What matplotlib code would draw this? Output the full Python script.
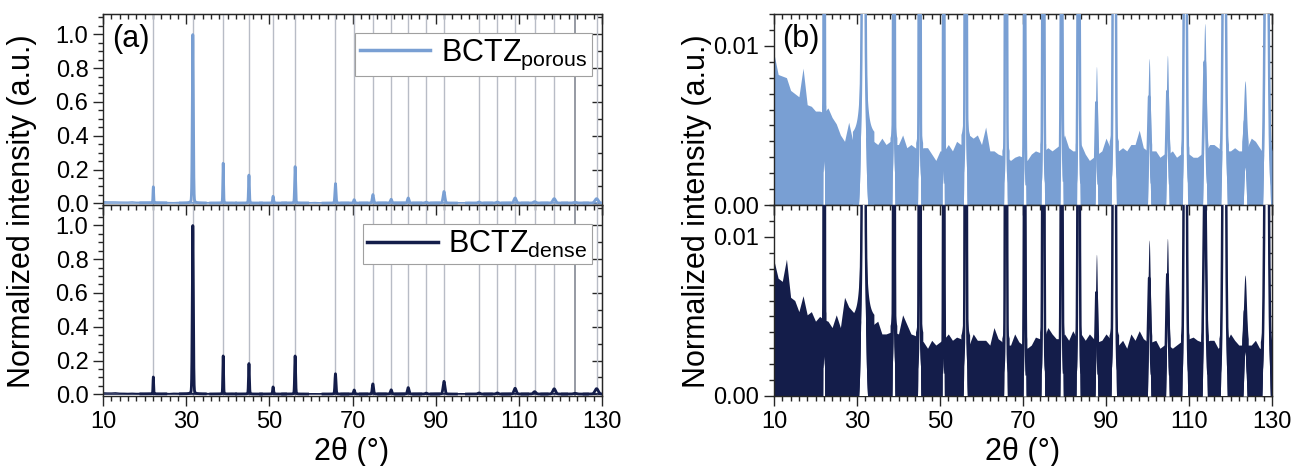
import numpy as np
import matplotlib
matplotlib.use("Agg")
from matplotlib import pyplot as plt
from matplotlib.lines import Line2D
from matplotlib.ticker import MultipleLocator, FormatStrFormatter

plt.rcParams["font.family"] = ["Liberation Sans", "DejaVu Sans"]
plt.rcParams["mathtext.fontset"] = "custom"
plt.rcParams["mathtext.rm"] = "Liberation Sans"
plt.rcParams["mathtext.it"] = "Liberation Sans:italic"

# reflections (2theta in deg), also the grey reference lines in (a)
peak_pos = [22.1, 31.6, 38.9, 45.1, 50.9, 56.2, 65.9, 70.4, 74.9, 79.3,
            83.4, 87.7, 92.0, 100.4, 104.8, 109.1, 113.8, 118.5, 123.5, 128.7]
peak_hwhm = [0.09, 0.15, 0.10, 0.12, 0.12, 0.13, 0.15, 0.17, 0.18, 0.20,
             0.22, 0.25, 0.25, 0.30, 0.30, 0.32, 0.35, 0.38, 0.40, 0.45]
porous_height = [0.095, 0.996, 0.235, 0.165, 0.040, 0.215, 0.115, 0.020, 0.050, 0.022,
                 0.030, 0.0055, 0.068, 0.0058, 0.0062, 0.030, 0.008, 0.026, 0.0042, 0.026]
dense_height = [0.100, 0.996, 0.225, 0.180, 0.042, 0.225, 0.120, 0.024, 0.060, 0.025,
                0.038, 0.0055, 0.075, 0.0064, 0.0067, 0.034, 0.014, 0.031, 0.0044, 0.032]
dark_line = 123.5  # this reference line is drawn darker

# top of the noisy background, read every 1 deg from 10 to 130
bg_angle = np.arange(10, 131)
porous_bg = [
    0.0095, 0.0082, 0.0081, 0.0080, 0.0072, 0.0070, 0.0068, 0.0086, 0.0063, 0.0062,
    0.0059, 0.0059, 0.0058, 0.0061, 0.0055, 0.0051, 0.0044, 0.0040, 0.0052, 0.0040,
    0.0042, 0.0041, 0.0042, 0.0045, 0.0040, 0.0038, 0.0042, 0.0038, 0.0040, 0.0038,
    0.0038, 0.0044, 0.0036, 0.0038, 0.0036, 0.0035, 0.0036, 0.0036, 0.0032, 0.0028,
    0.0034, 0.0034, 0.0038, 0.0034, 0.0040, 0.0038, 0.0040, 0.0044, 0.0042, 0.0044,
    0.0038, 0.0049, 0.0034, 0.0034, 0.0032, 0.0031, 0.0030, 0.0028, 0.0030, 0.0031,
    0.0030, 0.0028, 0.0032, 0.0034, 0.0033, 0.0034, 0.0036, 0.0034, 0.0036, 0.0038,
    0.0044, 0.0036, 0.0034, 0.0034, 0.0038, 0.0032, 0.0028, 0.0030, 0.0032, 0.0034,
    0.0042, 0.0036, 0.0036, 0.0034, 0.0036, 0.0034, 0.0038, 0.0038, 0.0047, 0.0036,
    0.0034, 0.0034, 0.0034, 0.0030, 0.0032, 0.0032, 0.0034, 0.0030, 0.0032, 0.0032,
    0.0032, 0.0030, 0.0030, 0.0032, 0.0034, 0.0038, 0.0038, 0.0036, 0.0034, 0.0034,
    0.0034, 0.0036, 0.0034, 0.0034, 0.0036, 0.0042, 0.0040, 0.0036, 0.0032, 0.0030,
    0.0030,
]
dense_bg = [
    0.0085, 0.0074, 0.0072, 0.0086, 0.0062, 0.0060, 0.0053, 0.0063, 0.0051, 0.0053,
    0.0047, 0.0050, 0.0048, 0.0047, 0.0043, 0.0051, 0.0043, 0.0062, 0.0056, 0.0053,
    0.0050, 0.0047, 0.0047, 0.0047, 0.0045, 0.0047, 0.0039, 0.0039, 0.0040, 0.0040,
    0.0039, 0.0051, 0.0045, 0.0039, 0.0038, 0.0036, 0.0034, 0.0030, 0.0035, 0.0032,
    0.0034, 0.0036, 0.0039, 0.0035, 0.0037, 0.0036, 0.0034, 0.0032, 0.0039, 0.0035,
    0.0035, 0.0035, 0.0032, 0.0043, 0.0036, 0.0034, 0.0032, 0.0032, 0.0039, 0.0034,
    0.0032, 0.0030, 0.0032, 0.0037, 0.0036, 0.0036, 0.0043, 0.0039, 0.0036, 0.0036,
    0.0039, 0.0035, 0.0041, 0.0036, 0.0039, 0.0035, 0.0039, 0.0036, 0.0034, 0.0035,
    0.0039, 0.0036, 0.0034, 0.0032, 0.0035, 0.0030, 0.0039, 0.0035, 0.0041, 0.0036,
    0.0034, 0.0034, 0.0035, 0.0030, 0.0032, 0.0032, 0.0030, 0.0032, 0.0034, 0.0034,
    0.0036, 0.0037, 0.0035, 0.0034, 0.0034, 0.0035, 0.0035, 0.0030, 0.0032, 0.0034,
    0.0039, 0.0035, 0.0032, 0.0032, 0.0032, 0.0032, 0.0035, 0.0030, 0.0030, 0.0030,
    0.0030,
]

x_ticks = [10, 30, 50, 70, 90, 110, 130]
porous_color = "#799fd3"
dense_color = "#141d4a"
ref_color = "#b8bcc6"
spine_color = "#262626"


def peak_profile(x, pos, h, w, eta=0.12):
    # pseudo-Voigt shape for one reflection
    d = (x - pos) / w
    return h * (eta / (1 + d**2) + (1 - eta) * np.exp(-np.log(2) * d**2))


def draw_pattern(ax, heights, bg, color, zoomed):
    ax.fill_between(bg_angle, 0, bg, color=color, lw=0, zorder=2)
    local = []
    for pos, h, w in zip(peak_pos, heights, peak_hwhm):
        x = np.linspace(pos - 3, pos + 3, 1501)
        y = peak_profile(x, pos, h, w)
        base = bg[int(round(pos)) - 10]
        local.append((x, y, base))
    if not zoomed:
        ax.plot(bg_angle, bg, color=color, lw=1.0, zorder=2)
        for x, y, base in local:
            ax.plot(x, y + 0.5 * base, color=color, lw=2.0, zorder=4)
        return
    # zoomed view: the noisy band lifts off zero next to each reflection
    for x, y, base in local:
        low = np.clip(y - 0.5 * base, 0, None)
        ax.fill_between(x, 0, low, color="white", lw=0, zorder=3)
    for x, y, base in local:
        low = np.clip(y - 0.5 * base, 0, None)
        on = y > 4e-4
        ax.fill_between(x, low, y + base, where=on, color=color, lw=0, zorder=4)
        ax.plot(x, np.where(on, y + 0.3 * base, np.nan), color=color, lw=1.8, zorder=4)


def style_axes(ax, ylim, ymajor, yminor, yminor_right, fmt, show_xlabels):
    ax.set_xlim(10, 130)
    ax.set_ylim(*ylim)
    ax.set_xticks(x_ticks)
    ax.xaxis.set_minor_locator(MultipleLocator(2))
    ax.yaxis.set_major_locator(MultipleLocator(ymajor))
    ax.yaxis.set_minor_locator(MultipleLocator(yminor))
    ax.yaxis.set_major_formatter(FormatStrFormatter(fmt))
    ax.tick_params(which="both", direction="out", width=1, color=spine_color,
                   labelsize=17, labelbottom=show_xlabels)
    ax.tick_params(which="major", length=7)
    ax.tick_params(which="minor", length=3.5)
    for s in ax.spines.values():
        s.set_color(spine_color)
        s.set_linewidth(1)
    # top and right ticks point into the frame
    top = ax.secondary_xaxis("top")
    top.set_xticks(x_ticks)
    top.xaxis.set_minor_locator(MultipleLocator(2))
    top.tick_params(which="both", direction="in", width=1, color=spine_color, labeltop=False)
    top.tick_params(which="major", length=7)
    top.tick_params(which="minor", length=3.5)
    top.spines["top"].set_color(spine_color)
    right = ax.secondary_yaxis("right")
    right.yaxis.set_major_locator(MultipleLocator(ymajor))
    right.yaxis.set_minor_locator(MultipleLocator(yminor_right))
    right.tick_params(which="both", direction="in", width=1, color=spine_color, labelright=False)
    right.tick_params(which="major", length=7)
    right.tick_params(which="minor", length=3.5)
    right.spines["right"].set_color(spine_color)


fig = plt.figure(figsize=(12.93, 4.66), dpi=100)
W, H = 1293, 466
left_a, left_b = 103 / W, 774 / W
width_a, width_b = 499 / W, 498 / W
y_mid, y_bot, y_top = 1 - 205 / H, 1 - 396 / H, 1 - 14 / H

ax_a1 = fig.add_axes([left_a, y_mid, width_a, y_top - y_mid])
ax_a2 = fig.add_axes([left_a, y_bot, width_a, y_mid - y_bot])
ax_b1 = fig.add_axes([left_b, y_mid, width_b, y_top - y_mid])
ax_b2 = fig.add_axes([left_b, y_bot, width_b, y_mid - y_bot])

for ax in (ax_a1, ax_a2):
    for pos in peak_pos:
        dark = pos == dark_line
        ax.axvline(pos, color="#8e929c" if dark else ref_color,
                   lw=1.3 if dark else 1.0, zorder=1)

draw_pattern(ax_a1, porous_height, porous_bg, porous_color, zoomed=False)
draw_pattern(ax_a2, dense_height, dense_bg, dense_color, zoomed=False)
draw_pattern(ax_b1, porous_height, porous_bg, porous_color, zoomed=True)
draw_pattern(ax_b2, dense_height, dense_bg, dense_color, zoomed=True)

style_axes(ax_a1, (-0.01, 1.12), 0.2, 0.05, 0.1, "%.1f", False)
style_axes(ax_a2, (-0.01, 1.12), 0.2, 0.05, 0.1, "%.1f", True)
style_axes(ax_b1, (0, 0.012), 0.01, 0.001, 0.001, "%.2f", False)
style_axes(ax_b2, (0, 0.012), 0.01, 0.001, 0.001, "%.2f", True)

leg_kw = dict(loc="upper right", bbox_to_anchor=(0.98, 0.9), borderaxespad=0,
              fontsize=22, frameon=True, fancybox=False, framealpha=1,
              edgecolor="#a0a0a0", borderpad=0.15, handlelength=2.3,
              handletextpad=0.35)
lg = ax_a1.legend([Line2D([0], [0], color=porous_color, lw=2.5)],
                  [r"BCTZ$_{\mathrm{porous}}$"], **leg_kw)
lg.get_frame().set_linewidth(0.8)
lg = ax_a2.legend([Line2D([0], [0], color=dense_color, lw=2.5)],
                  [r"BCTZ$_{\mathrm{dense}}$"], **leg_kw)
lg.get_frame().set_linewidth(0.8)

ax_a1.text(0.018, 0.95, "(a)", transform=ax_a1.transAxes, fontsize=22,
           ha="left", va="top", zorder=6)
ax_b1.text(0.016, 0.95, "(b)", transform=ax_b1.transAxes, fontsize=22,
           ha="left", va="top", zorder=6)

for xc in (352, 1023):
    fig.text(xc / W, 1 - 452 / H, "2θ (°)", fontsize=22, ha="center", va="center")
for xc in (22, 697):
    fig.text(xc / W, 1 - 211 / H, "Normalized intensity (a.u.)", fontsize=22,
             rotation=90, ha="center", va="center")

fig.savefig("out.png", dpi=100)
